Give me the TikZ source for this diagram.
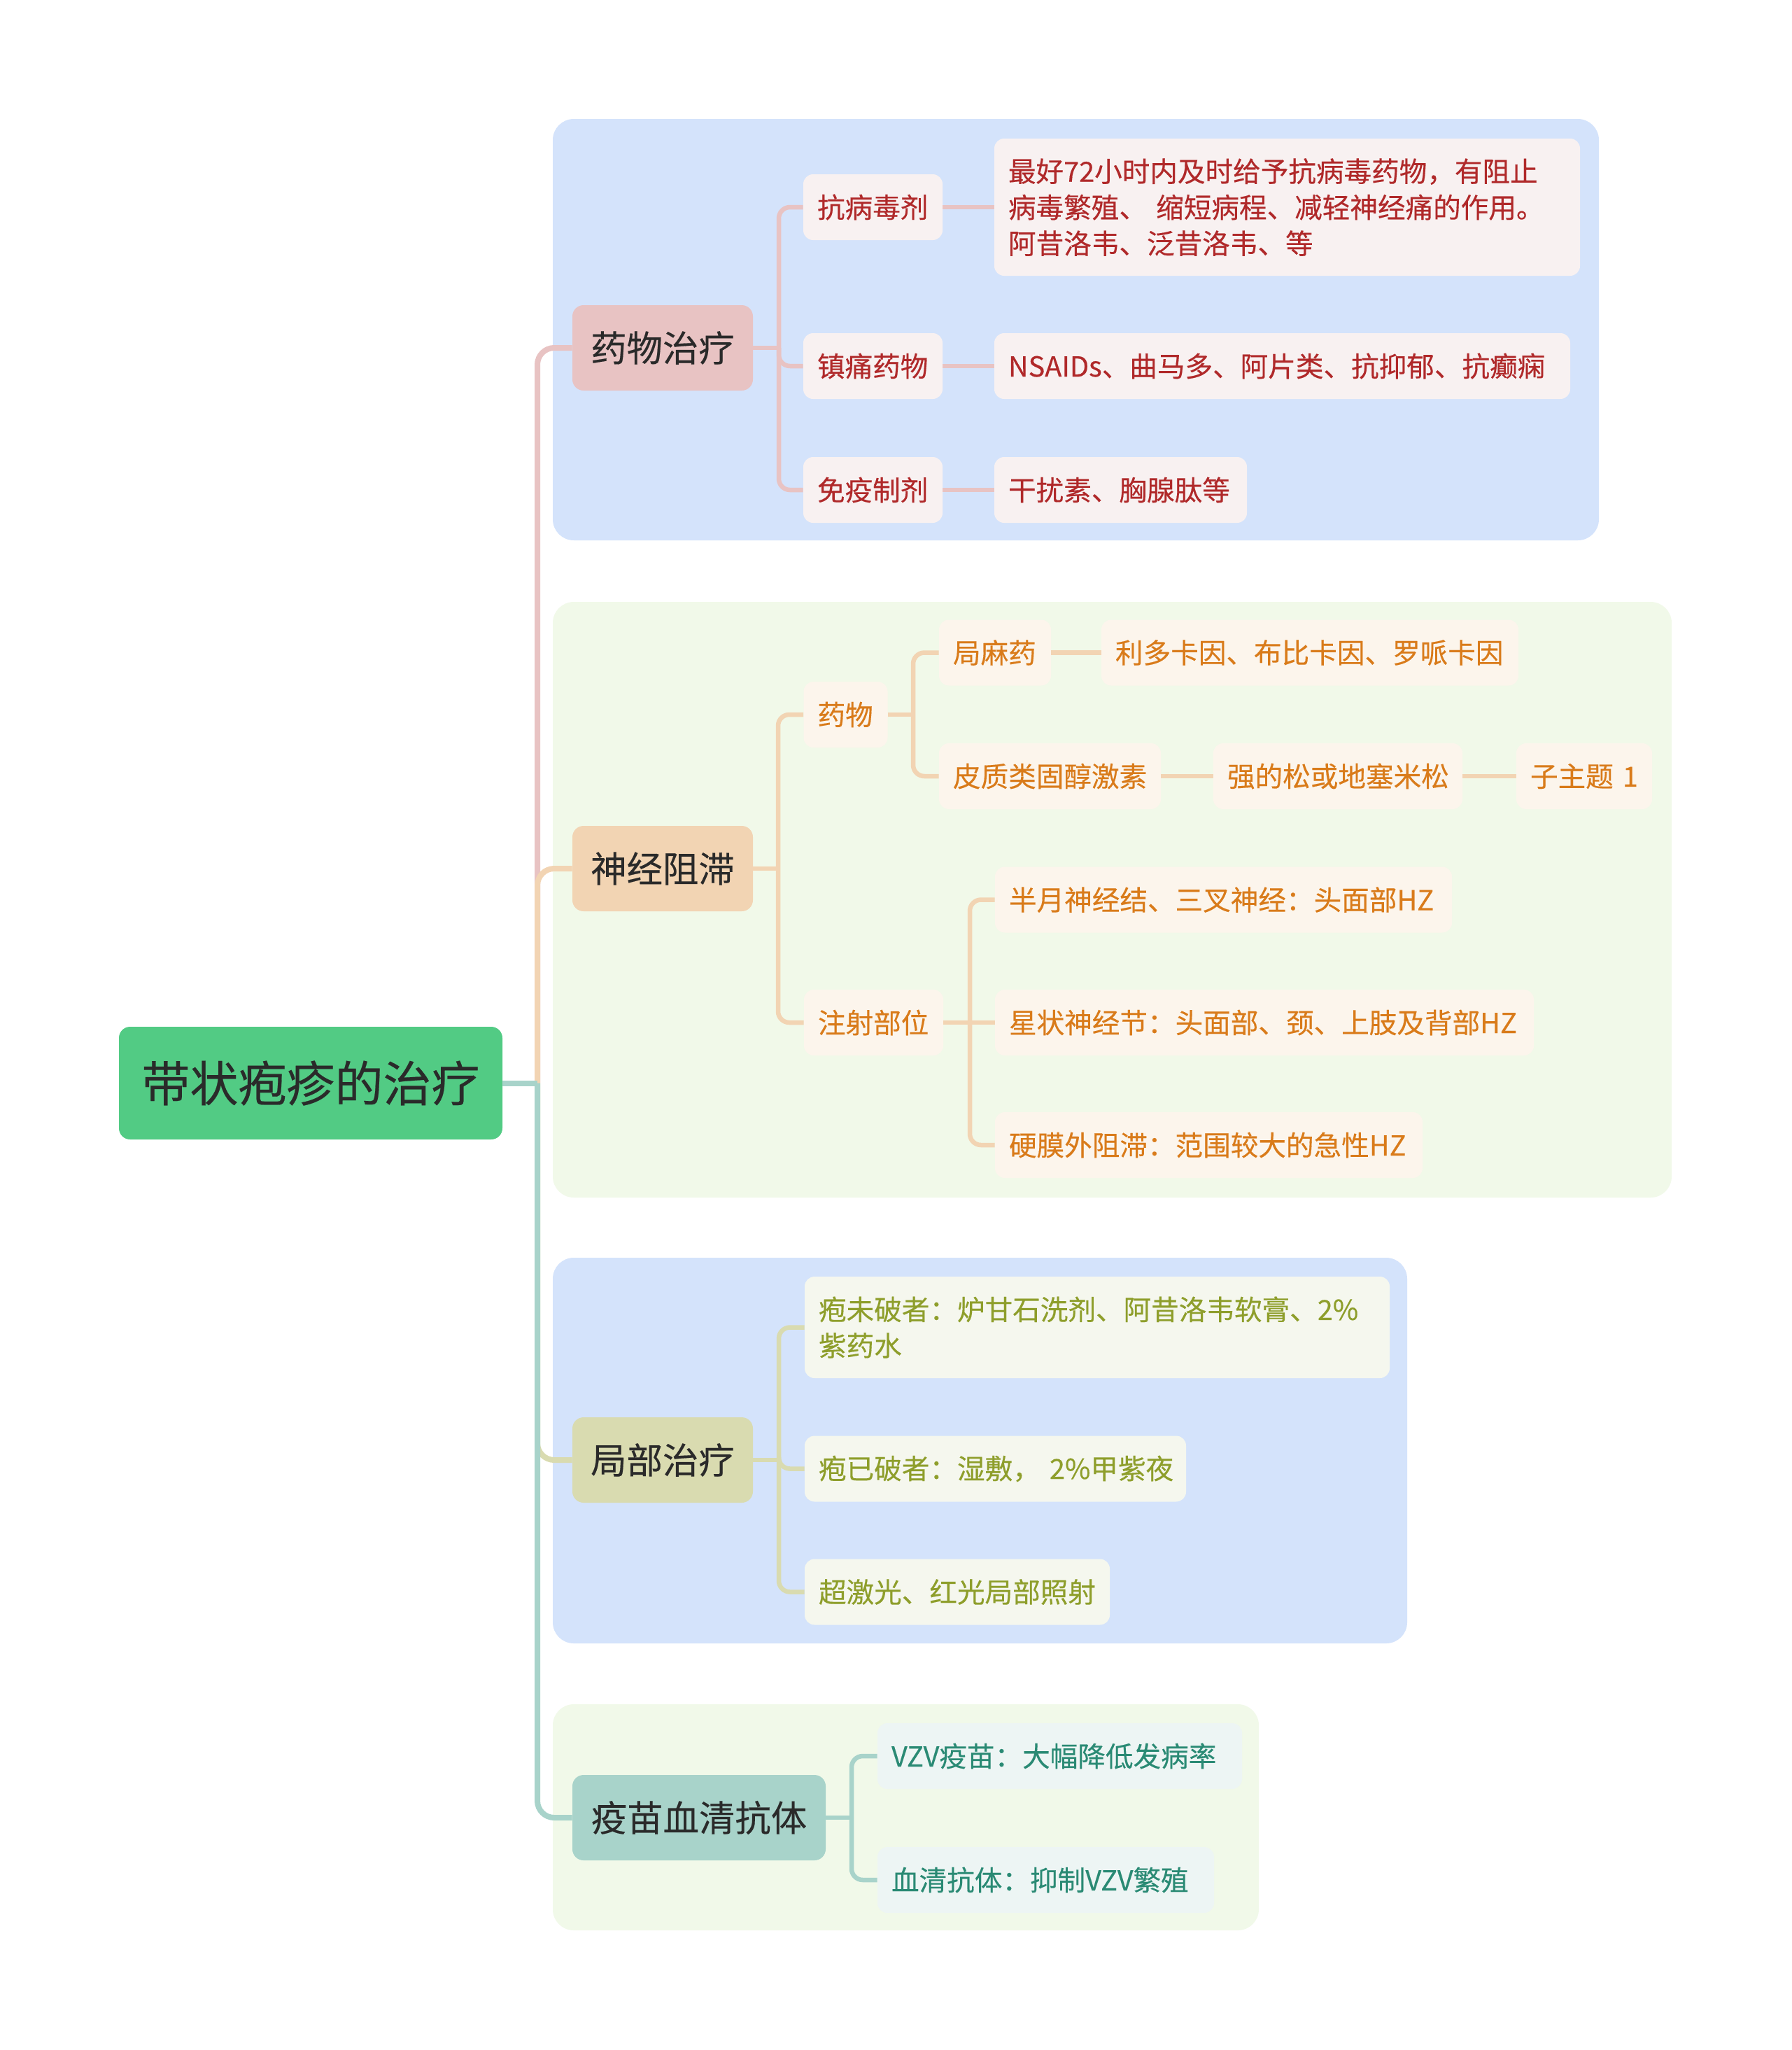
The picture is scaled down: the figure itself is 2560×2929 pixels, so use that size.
\documentclass[tikz,border=0pt]{standalone}
\usepackage{fontspec}
\setmainfont{Noto Sans CJK SC}[FakeBold=0.3]
\definecolor{bgblue}{HTML}{D4E3FB}
\definecolor{bggreen}{HTML}{F1F9E9}
\definecolor{rootc}{HTML}{52CB84}
\definecolor{pinkc}{HTML}{E8C3C3}
\definecolor{orangec}{HTML}{F2D4B3}
\definecolor{olivec}{HTML}{D9DBB0}
\definecolor{tealc}{HTML}{A8D3CA}
\definecolor{redt}{HTML}{B0292A}
\definecolor{oranget}{HTML}{D97B1A}
\definecolor{olivet}{HTML}{8E9E2B}
\definecolor{tealt}{HTML}{2A8A74}
\definecolor{pinkf}{HTML}{F8F1F1}
\definecolor{orangef}{HTML}{FCF5EC}
\definecolor{olivef}{HTML}{F5F7EE}
\definecolor{tealf}{HTML}{EDF5F4}
\definecolor{darkt}{HTML}{2A2A2A}
\tikzset{
  grp/.style={rounded corners=15pt},
  rootbox/.style={fill=rootc, rounded corners=8pt, minimum width=274pt, minimum height=80.5pt,
    font=\fontsize{34.5pt}{40pt}\selectfont, text=darkt, inner sep=0pt},
  lone/.style={rounded corners=8pt, minimum height=61pt, minimum width=129pt,
    font=\fontsize{25.7pt}{30pt}\selectfont, text=darkt, inner sep=0pt},
  ltwo/.style={rounded corners=7pt, minimum height=47pt,
    font=\fontsize{19.8pt}{25.75pt}\selectfont, inner xsep=10pt, inner ysep=0pt, align=left},
  pk/.style={ltwo, fill=pinkf, text=redt},
  og/.style={ltwo, fill=orangef, text=oranget},
  ol/.style={ltwo, fill=olivef, text=olivet},
  tl/.style={ltwo, fill=tealf, text=tealt},
  mainc/.style={line width=4pt, rounded corners=12pt},
  subc/.style={line width=3.25pt, rounded corners=8pt},
}
\begin{document}
\begin{tikzpicture}[x=0.5pt, y=-0.5pt]
\useasboundingbox (0,0) rectangle (2560,2929);
\fill[white] (0,0) rectangle (2560,2929);
% group backgrounds
\fill[grp, bgblue] (790,170) rectangle (2285,772);
\fill[grp, bggreen] (790,860) rectangle (2389,1711);
\fill[grp, bgblue] (790,1797) rectangle (2011,2348);
\fill[grp, bggreen] (790,2435) rectangle (1799,2758);

% root
\node[rootbox] (root) at (444,1547.5) {带状疱疹的治疗};

% level 1
\node[lone, fill=pinkc] (n1) at (947,497) {药物治疗};
\node[lone, fill=orangec] (n2) at (947,1241) {神经阻滞};
\node[lone, fill=olivec] (n3) at (947,2086) {局部治疗};
\node[lone, fill=tealc, minimum width=181pt] (n4) at (999,2597) {疫苗血清抗体};

% group 1
\node[pk, text width=79.5pt] (a1) at (1247.5,296) {抗病毒剂};
\node[pk, text width=79.5pt] (a2) at (1247.5,523) {镇痛药物};
\node[pk, text width=79.5pt] (a3) at (1247.5,700) {免疫制剂};
\node[pk, text width=398.5pt, minimum height=98pt] (a1x) at (1839.5,296)
  {最好72小时内及时给予抗病毒药物，有阻止\\病毒繁殖、 缩短病程、减轻神经痛的作用。\\阿昔洛韦、泛昔洛韦、等};
\node[pk, text width=391.5pt] (a2x) at (1832.5,523) {NSAIDs、曲马多、阿片类、抗抑郁、抗癫痫};
\node[pk, text width=160.5pt] (a3x) at (1601.5,700) {干扰素、胸腺肽等};

% group 2
\node[og, text width=40pt] (b1) at (1208.5,1021) {药物};
\node[og, text width=79.5pt] (b2) at (1248.5,1461) {注射部位};
\node[og, text width=60pt] (b11) at (1422,932.5) {局麻药};
\node[og, text width=138.5pt] (b12) at (1500.5,1109) {皮质类固醇激素};
\node[og, text width=278pt] (b11x) at (1872,932.5) {利多卡因、布比卡因、罗哌卡因};
\node[og, text width=158pt] (b12x) at (1912,1109) {强的松或地塞米松};
\node[og, text width=77pt] (b12xx) at (2264,1109) {子主题~1};
\node[og, text width=306.5pt] (b21) at (1748.5,1285.5) {半月神经结、三叉神经：头面部HZ};
\node[og, text width=365pt] (b22) at (1807,1461) {星状神经节：头面部、颈、上肢及背部HZ};
\node[og, text width=285.5pt] (b23) at (1727.5,1636) {硬膜外阻滞：范围较大的急性HZ};

% group 3
\node[ol, text width=398pt, minimum height=72.5pt] (c1) at (1568,1896.5)
  {疱未破者：炉甘石洗剂、阿昔洛韦软膏、2\%\\紫药水};
\node[ol, text width=252.5pt] (c2) at (1422.5,2098.5) {疱已破者：湿敷，~2\%甲紫夜};
\node[ol, text width=198pt] (c3) at (1368,2274.5) {超激光、红光局部照射};

% group 4
\node[tl, text width=240.5pt] (d1) at (1514.5,2509) {VZV疫苗：大幅降低发病率};
\node[tl, text width=220.5pt] (d2) at (1494.5,2686) {血清抗体：抑制VZV繁殖};

% main connectors
\coordinate (t0) at (768,1547.5);
\draw[mainc, draw=pinkc] (t0) |- (n1.west);
\draw[mainc, draw=orangec] (t0) |- (n2.west);
\draw[mainc, draw=olivec] (t0) |- (n3.west);
\draw[mainc, draw=tealc] (t0) |- (n4.west);
\draw[line width=4pt, draw=tealc] (root.east) -- (t0);

% group 1 connectors
\coordinate (ja) at (1113,497);
\draw[subc, draw=pinkc] (n1.east) -- (ja);
\draw[subc, draw=pinkc] (ja) |- (a1.west);
\draw[subc, draw=pinkc] (ja) |- (a2.west);
\draw[subc, draw=pinkc] (ja) |- (a3.west);
\draw[subc, draw=pinkc] (a1.east) -- (a1x.west);
\draw[subc, draw=pinkc] (a2.east) -- (a2x.west);
\draw[subc, draw=pinkc] (a3.east) -- (a3x.west);

% group 2 connectors
\coordinate (jb) at (1112,1241);
\draw[subc, draw=orangec] (n2.east) -- (jb);
\draw[subc, draw=orangec] (jb) |- (b1.west);
\draw[subc, draw=orangec] (jb) |- (b2.west);
\coordinate (jb1) at (1305,1021);
\draw[subc, draw=orangec] (b1.east) -- (jb1);
\draw[subc, draw=orangec] (jb1) |- (b11.west);
\draw[subc, draw=orangec] (jb1) |- (b12.west);
\draw[subc, draw=orangec] (b11.east) -- (b11x.west);
\draw[subc, draw=orangec] (b12.east) -- (b12x.west);
\draw[subc, draw=orangec] (b12x.east) -- (b12xx.west);
\coordinate (jb2) at (1386,1461);
\draw[subc, draw=orangec] (jb2) |- (b21.west);
\draw[subc, draw=orangec] (jb2) |- (b23.west);
\draw[subc, draw=orangec] (b2.east) -- (b22.west);

% group 3 connectors
\coordinate (jc) at (1113,2086);
\draw[subc, draw=olivec] (n3.east) -- (jc);
\draw[subc, draw=olivec] (jc) |- (c1.west);
\draw[subc, draw=olivec] (jc) |- (c2.west);
\draw[subc, draw=olivec] (jc) |- (c3.west);

% group 4 connectors
\coordinate (jd) at (1217,2597);
\draw[subc, draw=tealc] (n4.east) -- (jd);
\draw[subc, draw=tealc] (jd) |- (d1.west);
\draw[subc, draw=tealc] (jd) |- (d2.west);
\end{tikzpicture}
\end{document}
